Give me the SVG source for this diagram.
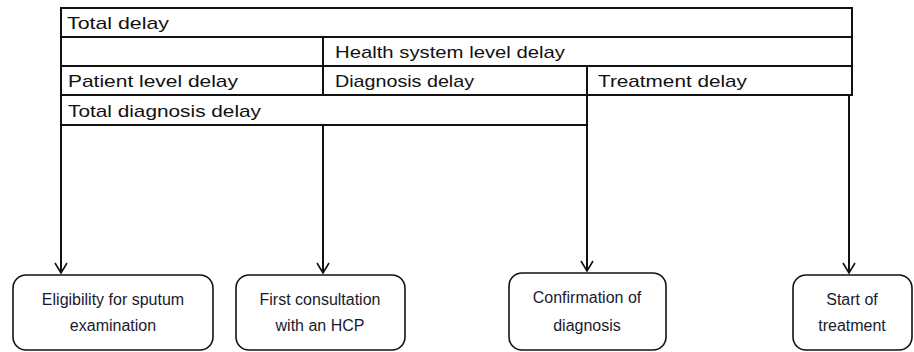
<svg xmlns="http://www.w3.org/2000/svg" width="914" height="352" viewBox="0 0 914 352">
<style>
.t{font-family:"Liberation Sans",Arial,sans-serif;font-size:17px;fill:#111}
.b{font-family:"Liberation Sans",Arial,sans-serif;font-size:16px;fill:#1a1a2e;text-anchor:middle}
.ln{stroke:#111;stroke-width:2;fill:none}
.box{fill:#fff;stroke:#111;stroke-width:1.6}
</style>
<defs>
<marker id="arr" viewBox="0 0 12 14" refX="11" refY="7" markerWidth="12" markerHeight="14" markerUnits="userSpaceOnUse" orient="auto">
<path d="M1,1 L11,7 L1,13" fill="none" stroke="#111" stroke-width="1.6"/>
</marker>
</defs>
<g id="table">
<rect x="61" y="8" width="791" height="87" class="ln"/>
<line x1="61" y1="37" x2="852" y2="37" class="ln"/>
<line x1="61" y1="66" x2="852" y2="66" class="ln"/>
<line x1="323" y1="37" x2="323" y2="95" class="ln"/>
<line x1="587" y1="66" x2="587" y2="95" class="ln"/>
<line x1="61" y1="125" x2="587" y2="125" class="ln"/>
<text class="t" x="67" y="29" textLength="102" lengthAdjust="spacingAndGlyphs">Total delay</text>
<text class="t" x="335" y="58" textLength="230" lengthAdjust="spacingAndGlyphs">Health system level delay</text>
<text class="t" x="68" y="87" textLength="170" lengthAdjust="spacingAndGlyphs">Patient level delay</text>
<text class="t" x="335" y="87" textLength="139" lengthAdjust="spacingAndGlyphs">Diagnosis delay</text>
<text class="t" x="598" y="87" textLength="149" lengthAdjust="spacingAndGlyphs">Treatment delay</text>
<text class="t" x="68" y="117" textLength="193" lengthAdjust="spacingAndGlyphs">Total diagnosis delay</text>
</g>
<g id="connectors">
<line x1="61" y1="95" x2="61" y2="273" class="ln" marker-end="url(#arr)"/>
<line x1="323" y1="125" x2="323" y2="273" class="ln" marker-end="url(#arr)"/>
<line x1="587" y1="95" x2="587" y2="271" class="ln" marker-end="url(#arr)"/>
<line x1="849" y1="95" x2="849" y2="273" class="ln" marker-end="url(#arr)"/>
</g>
<g id="n1">
<rect x="13" y="275" width="200" height="75" rx="13" class="box"/>
<text class="b" x="113" y="305">Eligibility for sputum</text>
<text class="b" x="113" y="331">examination</text>
</g>
<g id="n2">
<rect x="236" y="275" width="169" height="75" rx="13" class="box"/>
<text class="b" x="320" y="305">First consultation</text>
<text class="b" x="320" y="331">with an HCP</text>
</g>
<g id="n3">
<rect x="509" y="273" width="157" height="77" rx="13" class="box"/>
<text class="b" x="587" y="303">Confirmation of</text>
<text class="b" x="587" y="331">diagnosis</text>
</g>
<g id="n4">
<rect x="793" y="275" width="119" height="75" rx="13" class="box"/>
<text class="b" x="852" y="305">Start of</text>
<text class="b" x="852" y="331">treatment</text>
</g>
</svg>
